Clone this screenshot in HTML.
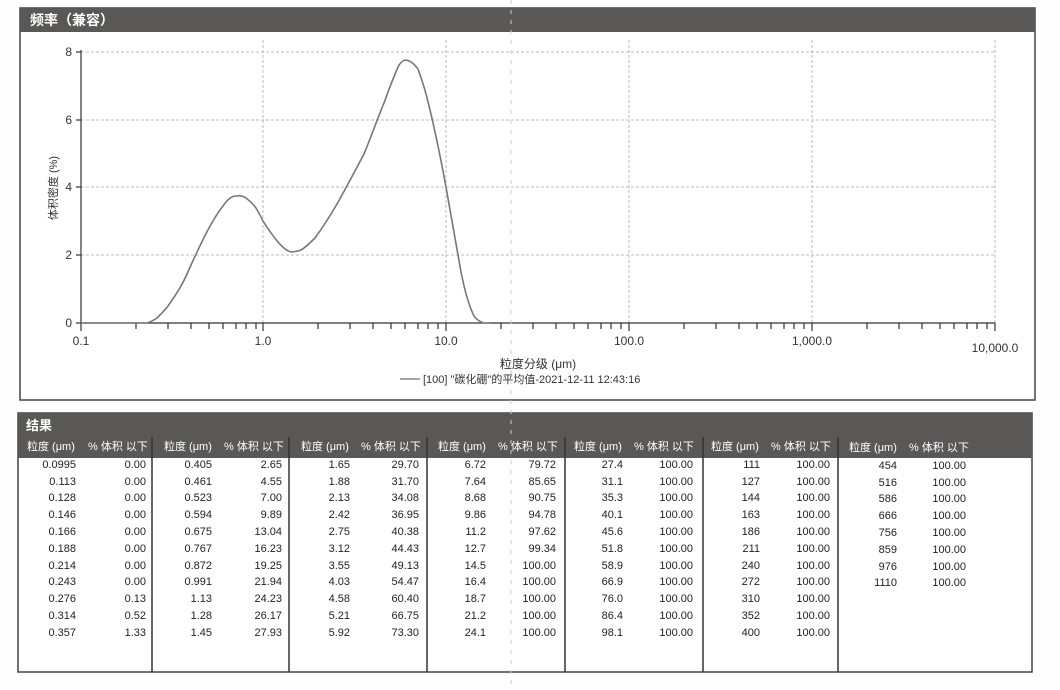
<!DOCTYPE html>
<html><head><meta charset="utf-8"><style>
html,body{margin:0;padding:0;background:#fff;}
svg{display:block;font-family:"Liberation Sans","Noto Sans CJK SC",sans-serif;}
</style></head><body>
<svg width="1060" height="690" viewBox="0 0 1060 690" xmlns="http://www.w3.org/2000/svg">
<rect width="1060" height="690" fill="#fefefe"/>
<rect x="20" y="8" width="1015" height="392" fill="#fff" stroke="#444" stroke-width="1.5"/>
<rect x="20" y="8" width="1015" height="24" fill="#5a5857"/>
<text x="30" y="25" font-size="14" fill="#fff" font-weight="bold">频率（兼容）</text>
<g stroke="#bbb" stroke-width="1" stroke-dasharray="3,2">
<line x1="81" y1="52" x2="995" y2="52"/><line x1="81" y1="120" x2="995" y2="120"/>
<line x1="81" y1="187" x2="995" y2="187"/><line x1="81" y1="255" x2="995" y2="255"/>
<line x1="263" y1="40" x2="263" y2="323"/><line x1="446" y1="40" x2="446" y2="323"/>
<line x1="629" y1="40" x2="629" y2="323"/><line x1="812" y1="40" x2="812" y2="323"/>
<line x1="995" y1="40" x2="995" y2="323"/>
</g>
<g stroke="#333" stroke-width="1.2">
<line x1="81" y1="50" x2="81" y2="323"/><line x1="81" y1="323" x2="995" y2="323"/>
<line x1="76" y1="52" x2="81" y2="52"/><line x1="76" y1="120" x2="81" y2="120"/>
<line x1="76" y1="187" x2="81" y2="187"/><line x1="76" y1="255" x2="81" y2="255"/><line x1="76" y1="323" x2="81" y2="323"/>
</g>
<g stroke="#333" stroke-width="1.2">
<path d="M81 323v8M136 323v6M168 323v6M191 323v6M209 323v6M223 323v6M236 323v6M246 323v6M256 323v6M263 323v8M318 323v6M350 323v6M373 323v6M391 323v6M405 323v6M418 323v6M428 323v6M438 323v6M446 323v8M501 323v6M533 323v6M556 323v6M574 323v6M588 323v6M601 323v6M611 323v6M621 323v6M629 323v8M684 323v6M716 323v6M739 323v6M757 323v6M771 323v6M784 323v6M794 323v6M804 323v6M812 323v8M867 323v6M899 323v6M922 323v6M940 323v6M954 323v6M967 323v6M977 323v6M987 323v6M995 323v8"/>
</g>
<g font-size="12" fill="#333">
<text x="72" y="56" text-anchor="end">8</text><text x="72" y="124" text-anchor="end">6</text>
<text x="72" y="191" text-anchor="end">4</text><text x="72" y="259" text-anchor="end">2</text>
<text x="72" y="327" text-anchor="end">0</text>
<text x="81" y="345" text-anchor="middle">0.1</text><text x="263" y="345" text-anchor="middle">1.0</text>
<text x="446" y="345" text-anchor="middle">10.0</text><text x="629" y="345" text-anchor="middle">100.0</text>
<text x="812" y="345" text-anchor="middle">1,000.0</text><text x="995" y="352" text-anchor="middle">10,000.0</text>
<text x="538" y="368" text-anchor="middle">粒度分级 (μm)</text>
<text transform="translate(57,188) rotate(-90)" text-anchor="middle" font-size="11">体积密度 (%)</text>
</g>
<line x1="400" y1="379" x2="420" y2="379" stroke="#888" stroke-width="1.5"/>
<text x="423" y="383" font-size="11" fill="#333">[100] "碳化硼"的平均值-2021-12-11 12:43:16</text>
<path fill="none" stroke="#777" stroke-width="1.6" d="M81 323 L147 323 C151 322 154 320 157 318 C161 314 165 310 168 306 C173 299 177 293 181 286 C185 279 188 272 191 265 C197 252 203 239 209 228 C214 219 218 212 223 206 C227 200 231 196 236 196 C240 195 243 196 246 198 C250 201 253 204 256 208 C259 213 261 217 263 221 C268 229 273 236 278 242 C283 248 287 251 291 252 C295 252 298 251 301 250 C306 247 310 243 315 238 C323 227 330 216 337 204 C346 188 355 171 364 154 C371 137 377 120 384 103 C389 89 394 76 399 65 C402 61 404 60 406 60 C411 61 414 64 418 69 C422 80 426 92 429 106 C435 130 441 160 446 187 C451 216 456 244 461 272 C465 292 469 306 474 316 C477 320 480 322 484 323 L490 323"/>
<rect x="18" y="413" width="1014" height="259" fill="#fff" stroke="#444" stroke-width="1.5"/>
<rect x="18" y="413" width="1014" height="45" fill="#5a5857"/>
<text x="26" y="430" font-size="13" fill="#fff" font-weight="bold">结果</text>
<g stroke="#333" stroke-width="1.5">
<line x1="152" y1="437" x2="152" y2="672"/><line x1="289" y1="437" x2="289" y2="672"/>
<line x1="427" y1="437" x2="427" y2="672"/><line x1="565" y1="437" x2="565" y2="672"/>
<line x1="703" y1="437" x2="703" y2="672"/><line x1="838" y1="437" x2="838" y2="672"/>
</g>
<g font-size="11" fill="#fff">
<text x="27" y="450">粒度 (μm)</text><text x="88" y="450">% 体积 以下</text>
<text x="164" y="450">粒度 (μm)</text><text x="224" y="450">% 体积 以下</text>
<text x="301" y="450">粒度 (μm)</text><text x="361" y="450">% 体积 以下</text>
<text x="438" y="450">粒度 (μm)</text><text x="498" y="450">% 体积 以下</text>
<text x="574" y="450">粒度 (μm)</text><text x="634" y="450">% 体积 以下</text>
<text x="711" y="450">粒度 (μm)</text><text x="771" y="450">% 体积 以下</text>
<text x="849" y="451">粒度 (μm)</text><text x="909" y="451">% 体积 以下</text>
</g>
<g font-size="11" fill="#222" text-anchor="end">
<g transform="translate(18,0)">
<text x="58" y="468">0.0995</text><text x="128" y="468">0.00</text>
<text x="58" y="485">0.113</text><text x="128" y="485">0.00</text>
<text x="58" y="501">0.128</text><text x="128" y="501">0.00</text>
<text x="58" y="518">0.146</text><text x="128" y="518">0.00</text>
<text x="58" y="535">0.166</text><text x="128" y="535">0.00</text>
<text x="58" y="552">0.188</text><text x="128" y="552">0.00</text>
<text x="58" y="569">0.214</text><text x="128" y="569">0.00</text>
<text x="58" y="585">0.243</text><text x="128" y="585">0.00</text>
<text x="58" y="602">0.276</text><text x="128" y="602">0.13</text>
<text x="58" y="619">0.314</text><text x="128" y="619">0.52</text>
<text x="58" y="636">0.357</text><text x="128" y="636">1.33</text>
</g>
<g transform="translate(152,0)">
<text x="60" y="468">0.405</text><text x="130" y="468">2.65</text>
<text x="60" y="485">0.461</text><text x="130" y="485">4.55</text>
<text x="60" y="501">0.523</text><text x="130" y="501">7.00</text>
<text x="60" y="518">0.594</text><text x="130" y="518">9.89</text>
<text x="60" y="535">0.675</text><text x="130" y="535">13.04</text>
<text x="60" y="552">0.767</text><text x="130" y="552">16.23</text>
<text x="60" y="569">0.872</text><text x="130" y="569">19.25</text>
<text x="60" y="585">0.991</text><text x="130" y="585">21.94</text>
<text x="60" y="602">1.13</text><text x="130" y="602">24.23</text>
<text x="60" y="619">1.28</text><text x="130" y="619">26.17</text>
<text x="60" y="636">1.45</text><text x="130" y="636">27.93</text>
</g>
<g transform="translate(289,0)">
<text x="61" y="468">1.65</text><text x="130" y="468">29.70</text>
<text x="61" y="485">1.88</text><text x="130" y="485">31.70</text>
<text x="61" y="501">2.13</text><text x="130" y="501">34.08</text>
<text x="61" y="518">2.42</text><text x="130" y="518">36.95</text>
<text x="61" y="535">2.75</text><text x="130" y="535">40.38</text>
<text x="61" y="552">3.12</text><text x="130" y="552">44.43</text>
<text x="61" y="569">3.55</text><text x="130" y="569">49.13</text>
<text x="61" y="585">4.03</text><text x="130" y="585">54.47</text>
<text x="61" y="602">4.58</text><text x="130" y="602">60.40</text>
<text x="61" y="619">5.21</text><text x="130" y="619">66.75</text>
<text x="61" y="636">5.92</text><text x="130" y="636">73.30</text>
</g>
<g transform="translate(427,0)">
<text x="59" y="468">6.72</text><text x="129" y="468">79.72</text>
<text x="59" y="485">7.64</text><text x="129" y="485">85.65</text>
<text x="59" y="501">8.68</text><text x="129" y="501">90.75</text>
<text x="59" y="518">9.86</text><text x="129" y="518">94.78</text>
<text x="59" y="535">11.2</text><text x="129" y="535">97.62</text>
<text x="59" y="552">12.7</text><text x="129" y="552">99.34</text>
<text x="59" y="569">14.5</text><text x="129" y="569">100.00</text>
<text x="59" y="585">16.4</text><text x="129" y="585">100.00</text>
<text x="59" y="602">18.7</text><text x="129" y="602">100.00</text>
<text x="59" y="619">21.2</text><text x="129" y="619">100.00</text>
<text x="59" y="636">24.1</text><text x="129" y="636">100.00</text>
</g>
<g transform="translate(565,0)">
<text x="58" y="468">27.4</text><text x="128" y="468">100.00</text>
<text x="58" y="485">31.1</text><text x="128" y="485">100.00</text>
<text x="58" y="501">35.3</text><text x="128" y="501">100.00</text>
<text x="58" y="518">40.1</text><text x="128" y="518">100.00</text>
<text x="58" y="535">45.6</text><text x="128" y="535">100.00</text>
<text x="58" y="552">51.8</text><text x="128" y="552">100.00</text>
<text x="58" y="569">58.9</text><text x="128" y="569">100.00</text>
<text x="58" y="585">66.9</text><text x="128" y="585">100.00</text>
<text x="58" y="602">76.0</text><text x="128" y="602">100.00</text>
<text x="58" y="619">86.4</text><text x="128" y="619">100.00</text>
<text x="58" y="636">98.1</text><text x="128" y="636">100.00</text>
</g>
<g transform="translate(703,0)">
<text x="57" y="468">111</text><text x="127" y="468">100.00</text>
<text x="57" y="485">127</text><text x="127" y="485">100.00</text>
<text x="57" y="501">144</text><text x="127" y="501">100.00</text>
<text x="57" y="518">163</text><text x="127" y="518">100.00</text>
<text x="57" y="535">186</text><text x="127" y="535">100.00</text>
<text x="57" y="552">211</text><text x="127" y="552">100.00</text>
<text x="57" y="569">240</text><text x="127" y="569">100.00</text>
<text x="57" y="585">272</text><text x="127" y="585">100.00</text>
<text x="57" y="602">310</text><text x="127" y="602">100.00</text>
<text x="57" y="619">352</text><text x="127" y="619">100.00</text>
<text x="57" y="636">400</text><text x="127" y="636">100.00</text>
</g>
<g transform="translate(838,0)">
<text x="59" y="469">454</text><text x="128" y="469">100.00</text>
<text x="59" y="486">516</text><text x="128" y="486">100.00</text>
<text x="59" y="502">586</text><text x="128" y="502">100.00</text>
<text x="59" y="519">666</text><text x="128" y="519">100.00</text>
<text x="59" y="536">756</text><text x="128" y="536">100.00</text>
<text x="59" y="553">859</text><text x="128" y="553">100.00</text>
<text x="59" y="570">976</text><text x="128" y="570">100.00</text>
<text x="59" y="586">1110</text><text x="128" y="586">100.00</text>
</g>
</g>
<line x1="511" y1="0" x2="511" y2="690" stroke="#ccc" stroke-width="1" stroke-dasharray="4,6"/>
</svg>
</body></html>
